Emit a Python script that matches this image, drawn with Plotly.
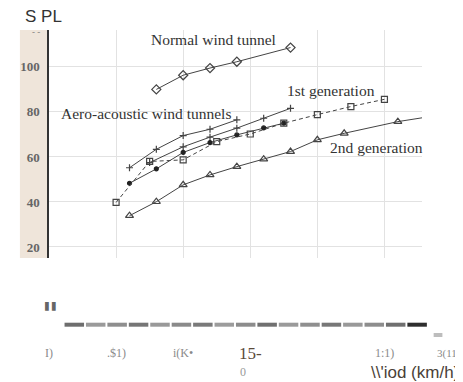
import plotly.graph_objects as go

# ---- data ----
normal_v = [80, 100, 120, 140, 180]
normal_spl = [90, 96.3, 99.5, 102.3, 108.6]

gen1_v = [50, 75, 100, 125, 150, 175, 200, 225, 250]
gen1_spl = [39.8, 58, 58.7, 66.8, 70.2, 75, 78.8, 82.4, 85.6]

aero1_v = [60, 80, 100, 120, 140]
aero1_spl = [55.2, 63.4, 69.5, 72.3, 76.5]
aero2_v = [75, 100, 120, 140, 160, 180]
aero2_spl = [57.5, 64.5, 68.8, 72.8, 77.2, 81.6]
aero3_v = [60, 80, 100, 120, 140, 160, 175]
aero3_spl = [48.3, 54.7, 62, 66.4, 69.8, 72.9, 75]

gen2_v = [60, 80, 100, 120, 140, 160, 180, 200, 220, 260, 290]
gen2_spl = [33.9, 40.1, 47.6, 52, 55.7, 59, 62.4, 67.6, 70.5, 75.7, 78.5]

y_ticks = [20, 40, 60, 80, 100]
x_label_vals = [0, 50, 100, 150, 250]
x_label_txt = ["I)", ".$1)", "i(K•", "15-", "1:1)"]
x_label_last = "3(11>"
bar_colors = ["#6e6e6e", "#9a9a9a", "#8e8e8e", "#767676", "#999999", "#8a8a8a",
              "#7a7a7a", "#9c9c9c", "#8c8c8c", "#707070", "#9a9a9a", "#8f8f8f",
              "#777777", "#999999", "#8d8d8d", "#6f6f6f", "#2e2e2e"]

LC = "#444444"
fig = go.Figure()

def add(v, s, sym, dash="solid", size=7, mc=LC):
    fig.add_trace(go.Scatter(
        x=v, y=s, mode="lines+markers",
        line=dict(color=LC, width=1, dash=dash),
        marker=dict(symbol=sym, size=size, color=mc, line=dict(color=mc, width=1.2)),
        showlegend=False, hoverinfo="skip"))

add(normal_v, normal_spl, "diamond-open", size=7)
add(aero1_v, aero1_spl, "cross-thin", size=5)
add(aero2_v, aero2_spl, "cross-thin", size=5)
add(aero3_v, aero3_spl, "circle", size=4, mc="#222222")
add(gen1_v, gen1_spl, "square-open", dash="4px,3px", size=6)
add(gen2_v, gen2_spl, "triangle-up-open", size=7)

serif = "Liberation Serif, Times New Roman, serif"
sans = "Liberation Sans, Arial, sans-serif"
ann = []
ann.append(dict(x=122.7, y=112.3, text="Normal wind tunnel", xanchor="center", yanchor="middle"))
ann.append(dict(x=210.3, y=89.5, text="1st generation", xanchor="center", yanchor="middle"))
ann.append(dict(x=7.2, y=79.5, text="Aero-acoustic wind tunnels", xanchor="left", yanchor="middle"))
ann.append(dict(x=207.8, y=64.2, text="2nd generation", xanchor="left", yanchor="middle"))
for a in ann:
    a.update(xref="x", yref="y", showarrow=False,
             font=dict(family=serif, size=15.5, color="#333333"))

# garbled bottom labels
for v, t in zip(x_label_vals, x_label_txt):
    big = t == "15-"
    ann.append(dict(x=v, y=-0.4167, xref="x", yref="paper", text=t, showarrow=False,
                    xanchor="center", yanchor="middle",
                    font=dict(family=serif, size=17 if big else 12,
                              color="#5a4a3a" if big else "#8a8a8a")))
ann.append(dict(x=1.034, y=-0.4167, xref="paper", yref="paper", text=x_label_last,
                showarrow=False, xanchor="left", yanchor="middle",
                font=dict(family=serif, size=11, color="#8a8a8a")))
ann.append(dict(x=0.521, y=-0.5, xref="paper", yref="paper", text="0", showarrow=False,
                xanchor="center", yanchor="middle",
                font=dict(family=serif, size=12, color="#9a9a9a")))
ann.append(dict(x=1.104, y=-0.5, xref="paper", yref="paper", text="\\\\'iod (km/h)",
                showarrow=False, xanchor="right", yanchor="middle",
                font=dict(family=sans, size=17, color="#4a3f38")))
ann.append(dict(x=-0.069, y=1.059, xref="paper", yref="paper", text="S PL",
                showarrow=False, xanchor="left", yanchor="middle",
                font=dict(family=sans, size=17, color="#333333")))
ann.append(dict(x=-0.034, y=0.992, xref="paper", yref="paper", text="- -",
                showarrow=False, xanchor="center", yanchor="middle",
                font=dict(family=serif, size=9, color="#777777")))
ann.append(dict(x=0.004, y=-0.245, xref="paper", yref="paper", text="<b>\"</b>",
                showarrow=False, xanchor="center", yanchor="middle",
                font=dict(family="DejaVu Sans, sans-serif", size=32, color="#666666")))

shapes = [dict(type="rect", xref="paper", yref="paper", x0=-0.078, x1=0, y0=0, y1=1,
               fillcolor="#efe5da", line=dict(width=0), layer="below")]
# dashed strip below the plot
n = len(bar_colors)
x0p, x1p = (54 - 38) / 384, (429 - 38) / 384
seg = (x1p - x0p) / n
for i, c in enumerate(bar_colors):
    shapes.append(dict(type="rect", xref="paper", yref="paper",
                       x0=x0p + i * seg, x1=x0p + (i + 0.91) * seg,
                       y0=(258 - 326.7) / 228, y1=(258 - 322.7) / 228,
                       fillcolor=c, line=dict(width=0)))
shapes.append(dict(type="rect", xref="paper", yref="paper",
                   x0=(434 - 38) / 384, x1=(443 - 38) / 384,
                   y0=(258 - 337) / 228, y1=(258 - 333) / 228,
                   fillcolor="#bdbdbd", line=dict(width=0)))

# page has an 8px body margin, so the figure is drawn 8px smaller and offset
fig.update_layout(
    width=455, height=374,
    margin=dict(l=30, r=41, t=22, b=124),
    paper_bgcolor="white", plot_bgcolor="white",
    annotations=ann, shapes=shapes,
    xaxis=dict(range=[0, 278], showgrid=True, gridcolor="#e2e2e2", gridwidth=1,
               tickvals=[50, 100, 150, 200, 250], showticklabels=False,
               zeroline=False, showline=False, fixedrange=True),
    yaxis=dict(range=[15.1, 116.4], tickvals=y_ticks, showgrid=True,
               gridcolor="#e2e2e2", gridwidth=1, zeroline=False,
               showline=True, linecolor="#333333", linewidth=1.5,
               tickfont=dict(family=serif, size=13, color="#666666", weight="bold"),
               ticks="", ticklabelstandoff=5),
    font=dict(family=serif),
)

fig.write_html("out.html")
